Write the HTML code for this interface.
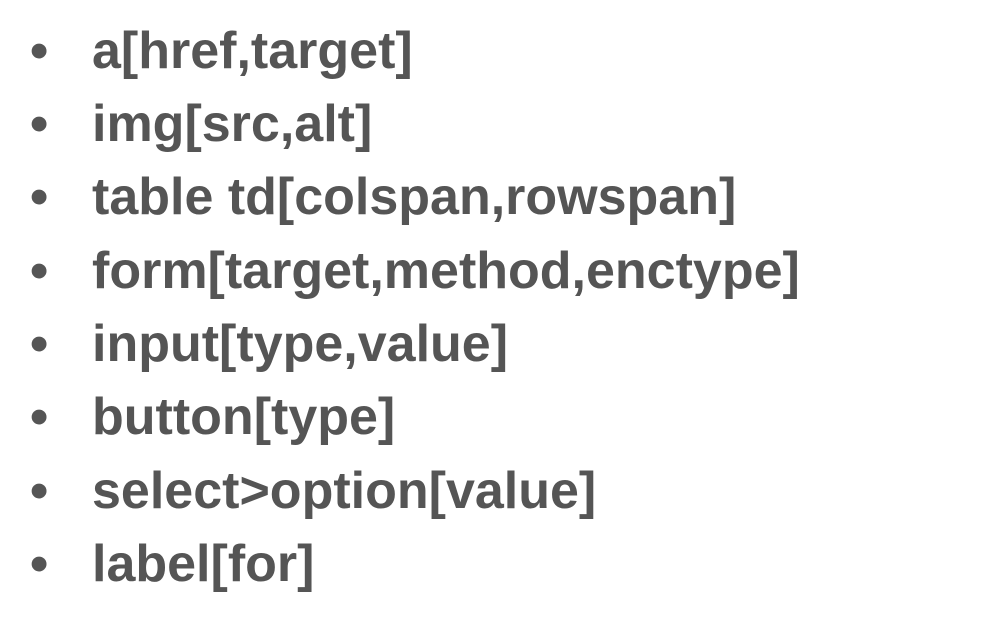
<!DOCTYPE html>
<html><head><meta charset="utf-8"><style>
html,body{margin:0;padding:0;background:#fff;width:998px;height:618px;overflow:hidden}
.l{position:absolute;left:0;font-family:"Liberation Sans",Arial,sans-serif;font-weight:bold;font-size:52px;color:#555;line-height:1;white-space:nowrap}
.b{position:absolute;left:30px}
.t{position:absolute;left:92px}
</style></head><body>
<div class="l" style="top:25px"><span class="b">•</span><span class="t">a[href,target]</span></div>
<div class="l" style="top:98px"><span class="b">•</span><span class="t">img[src,alt]</span></div>
<div class="l" style="top:171px"><span class="b">•</span><span class="t">table td[colspan,rowspan]</span></div>
<div class="l" style="top:245px"><span class="b">•</span><span class="t">form[target,method,enctype]</span></div>
<div class="l" style="top:318px"><span class="b">•</span><span class="t">input[type,value]</span></div>
<div class="l" style="top:391px"><span class="b">•</span><span class="t">button[type]</span></div>
<div class="l" style="top:465px"><span class="b">•</span><span class="t">select&gt;option[value]</span></div>
<div class="l" style="top:538px"><span class="b">•</span><span class="t">label[for]</span></div>
</body></html>
